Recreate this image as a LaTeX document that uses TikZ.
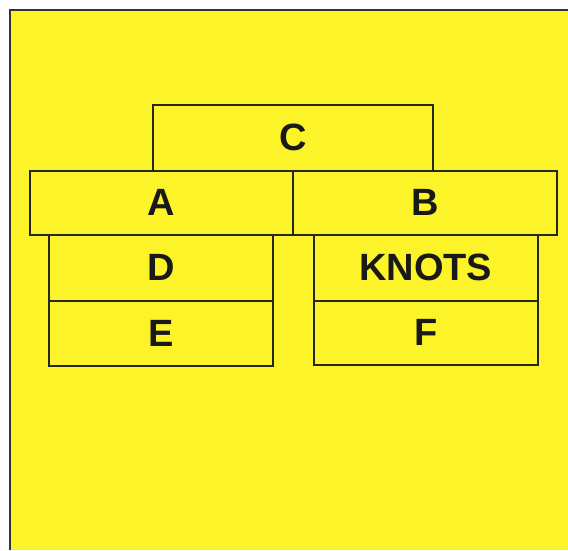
\documentclass[tikz,border=0pt]{standalone}
\usepackage{fontspec}
\setmainfont{Liberation Sans}
\definecolor{bgyellow}{RGB}{252,244,40}
\begin{document}
\begin{tikzpicture}[x=1pt,y=-1pt,
  cell/.style={draw=black!85, line width=1.5pt, fill=bgyellow, inner sep=0pt, anchor=north west,
    font=\fontsize{38}{38}\selectfont\bfseries, text=black!90},
  frame/.style={draw=black!80, line width=1.5pt}]
\useasboundingbox (0,0) rectangle (568,550);
\fill[white] (0,0) rectangle (568,550);
\fill[bgyellow] (10,10) rectangle (568,550);
\coordinate (tl) at (10,10);
\coordinate (tr) at (568,10);
\coordinate (bl) at (10,550);
\draw[frame] (bl) -- (tl) -- (tr);
% boxes: x, y (top-left), width, height
\node[cell, minimum width=280pt, minimum height=66pt] (C) at (152,104) {C};
\node[cell, minimum width=263pt, minimum height=64pt] (A) at (29,170) {A};
\node[cell, minimum width=264pt, minimum height=64pt] (B) at (292,170) {B};
\node[cell, minimum width=224pt, minimum height=66pt] (D) at (48,234) {D};
\node[cell, minimum width=224pt, minimum height=65pt] (E) at (48,300) {E};
\node[cell, minimum width=224pt, minimum height=66pt] (K) at (313,234) {KNOTS};
\node[cell, minimum width=224pt, minimum height=64pt] (F) at (313,300) {F};
\end{tikzpicture}
\end{document}
